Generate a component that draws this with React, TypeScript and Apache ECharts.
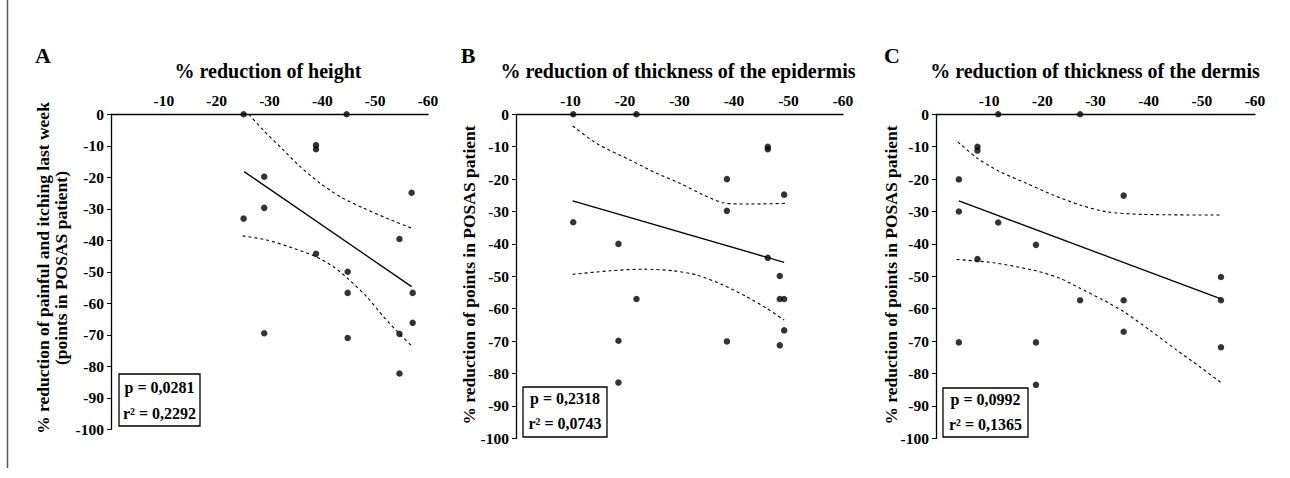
import React, { useEffect, useRef } from "react";
import * as echarts from "echarts";

// Panel A — % reduction of height
const aX = [-25.1, -44.6, -38.8, -38.8, -29.0, -29.0, -25.1, -56.9, -38.8, -44.8, -44.8, -44.8, -29.0, -54.6, -57.1, -57.1, -54.6, -54.6];
const aY = [0, 0, -9.8, -11.1, -19.8, -29.7, -33.1, -24.9, -44.3, -50.0, -56.7, -71.0, -69.5, -39.6, -56.7, -66.2, -69.7, -82.3];
const aFitX = [-25.2, -56.9];
const aFitY = [-18.2, -54.7];
const aUpX = [-26.1, -28.8, -32.6, -35.8, -39.6, -43.4, -47.8, -52.2, -57.0];
const aUpY = [0, -5.0, -11.3, -16.6, -21.9, -26.2, -29.8, -33.0, -36.2];
const aLoX = [-24.9, -29.5, -34.5, -38.8, -42.1, -44.8, -48.4, -51.6, -54.6, -57.1];
const aLoY = [-38.6, -39.9, -42.5, -45.2, -48.4, -52.1, -57.9, -64.3, -69.7, -73.8];

// Panel B — % reduction of thickness of the epidermis
const bX = [-10.5, -22.1, -46.2, -46.2, -38.7, -38.7, -49.2, -10.5, -18.8, -22.1, -18.8, -18.8, -38.7, -46.2, -48.4, -48.4, -49.2, -49.2, -48.4];
const bY = [0, 0, -10, -10.8, -20, -29.8, -24.8, -33.3, -40, -57, -69.9, -82.8, -70.1, -44.3, -49.9, -57, -57, -66.7, -71.3];
const bFitX = [-10.4, -49.2];
const bFitY = [-26.7, -45.7];
const bUpX = [-10.4, -14.8, -20.9, -25.8, -30.1, -34.4, -38.0, -42.9, -49.4];
const bUpY = [-3.6, -9.0, -14.1, -18.2, -21.3, -24.9, -27.3, -27.7, -27.5];
const bLoX = [-10.4, -17.2, -23.4, -28.9, -33.2, -38.0, -42.3, -46.0, -49.2];
const bLoY = [-49.4, -48.3, -47.8, -48.3, -49.6, -52.7, -56.3, -59.9, -63.5];

// Panel C — % reduction of thickness of the dermis
const cX = [-11.7, -27.1, -7.8, -7.8, -4.3, -4.3, -11.7, -35.3, -18.8, -7.8, -27.1, -35.3, -35.3, -53.6, -53.6, -53.6, -4.3, -18.8, -18.8];
const cY = [0, 0, -10, -11.2, -20.1, -30, -33.4, -25.1, -40.3, -44.7, -57.4, -57.4, -67.1, -50.2, -57.4, -71.9, -70.4, -70.4, -83.5];
const cFitX = [-4.3, -53.6];
const cFitY = [-26.7, -57.0];
const cUpX = [-4.1, -7.8, -12.0, -17.0, -22.0, -27.1, -32.1, -39.0, -53.7];
const cUpY = [-8.5, -13.6, -17.7, -21.3, -24.9, -28.0, -30.1, -30.9, -31.1];
const cLoX = [-3.9, -10.8, -18.8, -23.3, -27.1, -31.4, -35.3, -40.2, -45.2, -49.6, -53.5];
const cLoY = [-44.8, -45.8, -48.3, -50.6, -53.7, -57.3, -60.9, -66.6, -72.7, -77.9, -82.7];

const titles = [
  "% reduction of height",
  "% reduction of thickness of the epidermis",
  "% reduction of thickness of the dermis",
];
const panelLetters = ["A", "B", "C"];
const yNames = [
  ["% reduction of painful and itching last week", "(points in POSAS patient)"],
  ["% reduction of points in POSAS patient"],
  ["% reduction of points in POSAS patient"],
];
const pValues = ["p = 0,0281", "p = 0,2318", "p = 0,0992"];
const r2Values = ["r² = 0,2292", "r² = 0,0743", "r² = 0,1365"];

const FONT = "'Liberation Serif', 'Times New Roman', serif";

const zip = (xs: number[], ys: number[]) => xs.map((x, i) => [x, ys[i]]);

export default function App() {
  const ref = useRef<HTMLDivElement>(null);
  useEffect(() => {
    if (!ref.current) return;
    const chart = echarts.init(ref.current, null, { renderer: "svg" });

    const grids = [
      { left: 111, top: 114.3, width: 317, height: 315 },
      { left: 516, top: 114.3, width: 327, height: 324 },
      { left: 936, top: 114.3, width: 319, height: 324 },
    ];

    const xAxes = grids.map((_, i) => ({
      type: "value",
      gridIndex: i,
      position: "top",
      inverse: true,
      min: -60,
      max: 0,
      interval: 10,
      axisLine: { show: true, onZero: false, lineStyle: { color: "#000", width: 1.3 } },
      axisTick: { show: false },
      splitLine: { show: false },
      axisLabel: {
        margin: 6,
        color: "#000",
        fontFamily: FONT,
        fontWeight: "bold",
        fontSize: 15.5,
        formatter: (v: number) => (v === 0 ? "" : String(v)),
      },
    }));

    const yAxes = grids.map((_, i) => ({
      type: "value",
      gridIndex: i,
      min: -100,
      max: 0,
      interval: 10,
      axisLine: { show: true, onZero: false, lineStyle: { color: "#000", width: 1.3 } },
      axisTick: { show: true, inside: false, length: 4, lineStyle: { color: "#000" } },
      splitLine: { show: false },
      axisLabel: {
        margin: 7,
        color: "#000",
        fontFamily: FONT,
        fontWeight: "bold",
        fontSize: 15.5,
      },
    }));

    const sets = [
      { pts: zip(aX, aY), fit: zip(aFitX, aFitY), up: zip(aUpX, aUpY), lo: zip(aLoX, aLoY) },
      { pts: zip(bX, bY), fit: zip(bFitX, bFitY), up: zip(bUpX, bUpY), lo: zip(bLoX, bLoY) },
      { pts: zip(cX, cY), fit: zip(cFitX, cFitY), up: zip(cUpX, cUpY), lo: zip(cLoX, cLoY) },
    ];

    const series: any[] = [];
    sets.forEach((s, i) => {
      series.push({
        type: "line",
        xAxisIndex: i,
        yAxisIndex: i,
        data: s.fit,
        showSymbol: false,
        lineStyle: { color: "#000", width: 1.3 },
        z: 3,
      });
      [s.up, s.lo].forEach((d) =>
        series.push({
          type: "line",
          xAxisIndex: i,
          yAxisIndex: i,
          data: d,
          showSymbol: false,
          smooth: 0.25,
          lineStyle: { color: "#000", width: 1.1, type: [3, 3] },
          z: 3,
        })
      );
      series.push({
        type: "scatter",
        xAxisIndex: i,
        yAxisIndex: i,
        data: s.pts,
        symbol: "circle",
        symbolSize: 6.5,
        itemStyle: { color: "#000" },
        z: 5,
      });
    });

    const titleCenters = [268, 678, 1095];
    const letterPos = [43, 468, 892];
    const boxes = [
      { x: 119, y: 374, w: 81, h: 52, py: 387, ry: 413 },
      { x: 523, y: 387, w: 84, h: 50, py: 398.5, ry: 423.5 },
      { x: 943, y: 388, w: 85, h: 49, py: 399, ry: 424 },
    ];
    const yNamePos = [
      [{ x: 42.5, y: 268 }, { x: 61, y: 268 }],
      [{ x: 469, y: 275 }],
      [{ x: 891, y: 275 }],
    ];

    const graphics: any[] = [];
    // outer frame (left edge)
    graphics.push({
      type: "line",
      shape: { x1: 7.5, y1: 0, x2: 7.5, y2: 468 },
      style: { stroke: "#555", lineWidth: 1.5 },
    });
    for (let i = 0; i < 3; i++) {
      graphics.push({
        type: "text",
        x: letterPos[i],
        y: 55,
        style: {
          text: panelLetters[i],
          font: `bold 22px ${FONT}`,
          fill: "#000",
          textAlign: "center",
          textVerticalAlign: "middle",
        },
      });
      graphics.push({
        type: "text",
        x: titleCenters[i],
        y: 71,
        style: {
          text: titles[i],
          font: `bold 20px ${FONT}`,
          fill: "#000",
          textAlign: "center",
          textVerticalAlign: "middle",
        },
      });
      yNames[i].forEach((t, j) =>
        graphics.push({
          type: "text",
          x: yNamePos[i][j].x,
          y: yNamePos[i][j].y,
          rotation: Math.PI / 2,
          style: {
            text: t,
            font: `bold 17.5px ${FONT}`,
            fill: "#000",
            textAlign: "center",
            textVerticalAlign: "middle",
          },
        })
      );
      const b = boxes[i];
      graphics.push({
        type: "rect",
        shape: { x: b.x, y: b.y, width: b.w, height: b.h },
        style: { fill: "#fff", stroke: "#000", lineWidth: 1.3 },
        z: 10,
      });
      graphics.push({
        type: "text",
        x: b.x + b.w / 2,
        y: b.py,
        z: 11,
        style: {
          text: pValues[i],
          font: `bold 16px ${FONT}`,
          fill: "#000",
          textAlign: "center",
          textVerticalAlign: "middle",
        },
      });
      graphics.push({
        type: "text",
        x: b.x + b.w / 2,
        y: b.ry,
        z: 11,
        style: {
          text: r2Values[i],
          font: `bold 16px ${FONT}`,
          fill: "#000",
          textAlign: "center",
          textVerticalAlign: "middle",
        },
      });
    }

    chart.setOption({
      animation: false,
      backgroundColor: "#fff",
      grid: grids,
      xAxis: xAxes,
      yAxis: yAxes,
      series,
      graphic: graphics,
    });
    return () => chart.dispose();
  }, []);
  return (
    <div
      ref={ref}
      style={{ position: "absolute", left: 0, top: 0, width: 1290, height: 478 }}
    />
  );
}
